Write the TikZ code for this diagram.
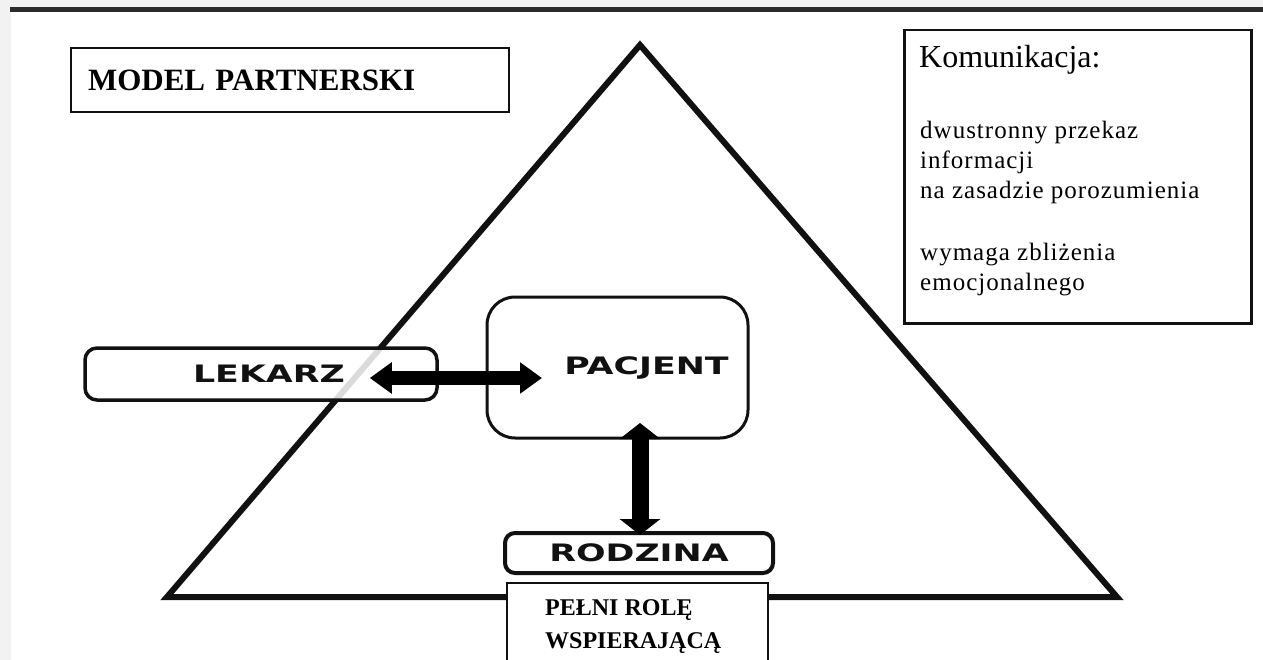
\documentclass[tikz,border=0pt]{standalone}
\usepackage{fontspec}
\setmainfont{Liberation Serif}
\newfontfamily\labelsans{DejaVu Sans}
\newfontfamily\bodyserif{Liberation Serif}[LetterSpace=4]
\usetikzlibrary{arrows.meta}
\definecolor{pagegray}{HTML}{F2F2F2}
\definecolor{bardark}{HTML}{2B2B2B}
\definecolor{ink}{HTML}{111111}
\newcommand{\stretchlabel}[1]{\scalebox{1.45}[1]{#1}}
\tikzset{
  frame/.style={draw=ink, fill=white},
  rbox/.style={draw=ink, fill=white, rounded corners=#1, inner sep=0pt},
  sanslabel/.style={font=\labelsans\bfseries\fontsize{24}{24}\selectfont, text=ink},
  harrow/.style={draw=black, line width=14pt, {Triangle[width=30pt,length=22pt]}-{Triangle[width=30pt,length=22pt]}},
  varrow/.style={draw=black, line width=17pt, {Triangle[width=40pt,length=16pt]}-{Triangle[width=40pt,length=16pt]}}
}
\begin{document}
\begin{tikzpicture}[x=1pt,y=-1pt]
\useasboundingbox (0,0) rectangle (1263,660);
\begin{scope}
\clip (0,0) rectangle (1263,660);
\fill[pagegray] (0,0) rectangle (1263,660);
\fill[white] (11,12) rectangle (1263,660);
\fill[bardark] (10,7) rectangle (1263,12);

% triangle
\draw[ink, line width=6pt, line join=miter] (640,45) -- (1117,597) -- (167,597) -- cycle;

% title
\node[frame, line width=2pt, anchor=north west, minimum width=438pt, minimum height=64pt,
      text width=404pt, inner xsep=17pt, align=left,
      font=\bfseries\fontsize{31}{31}\selectfont] (title) at (70,47) {MODEL PARTNERSKI};

% komunikacja
\node[frame, line width=2.5pt, anchor=north west, minimum width=347pt, minimum height=293pt] (komm) at (903,29) {};
\node[anchor=base west, inner sep=0pt, font=\fontsize{32}{32}\selectfont] (kommhead) at (919,68) {Komunikacja:};
\node[anchor=north west, inner sep=0pt, align=left, font=\bodyserif\fontsize{25}{30}\selectfont] (kommbody) at (920,121)
  {dwustronny przekaz\\ informacji\\ na zasadzie porozumienia\\[32pt] wymaga zbliżenia\\ emocjonalnego};

% boxes
\node[rbox=12pt, line width=3.5pt, fill opacity=0.85, text opacity=1, minimum width=352pt, minimum height=52pt, sanslabel] (lekarz) at (261,374) {\hspace*{16pt}\stretchlabel{LEKARZ}};
\node[rbox=28pt, line width=3pt, minimum width=261pt, minimum height=141pt, sanslabel] (pacjent) at (617.5,367.5) {\hspace*{58pt}\stretchlabel{PACJENT}};
\node[rbox=10pt, line width=4pt, minimum width=268pt, minimum height=40pt, sanslabel] (rodzina) at (639,553) {\stretchlabel{RODZINA}};

\node[frame, line width=2pt, anchor=north west, minimum width=261pt, minimum height=100pt] (rola) at (506,582) {};
\node[anchor=north west, inner sep=0pt, align=left, font=\bfseries\fontsize{24}{33}\selectfont] (rolatext) at (545,599) {PEŁNI ROLĘ\\ WSPIERAJĄCĄ};

% arrows
\draw[harrow] ([xshift=-69pt,yshift=-4pt]lekarz.east) -- ([xshift=56.5pt,yshift=-10.5pt]pacjent.west);
\draw[varrow] ([xshift=1pt,yshift=-4pt]rodzina.north) -- ([xshift=22.5pt,yshift=16.5pt]pacjent.south);
\end{scope}
\end{tikzpicture}
\end{document}
